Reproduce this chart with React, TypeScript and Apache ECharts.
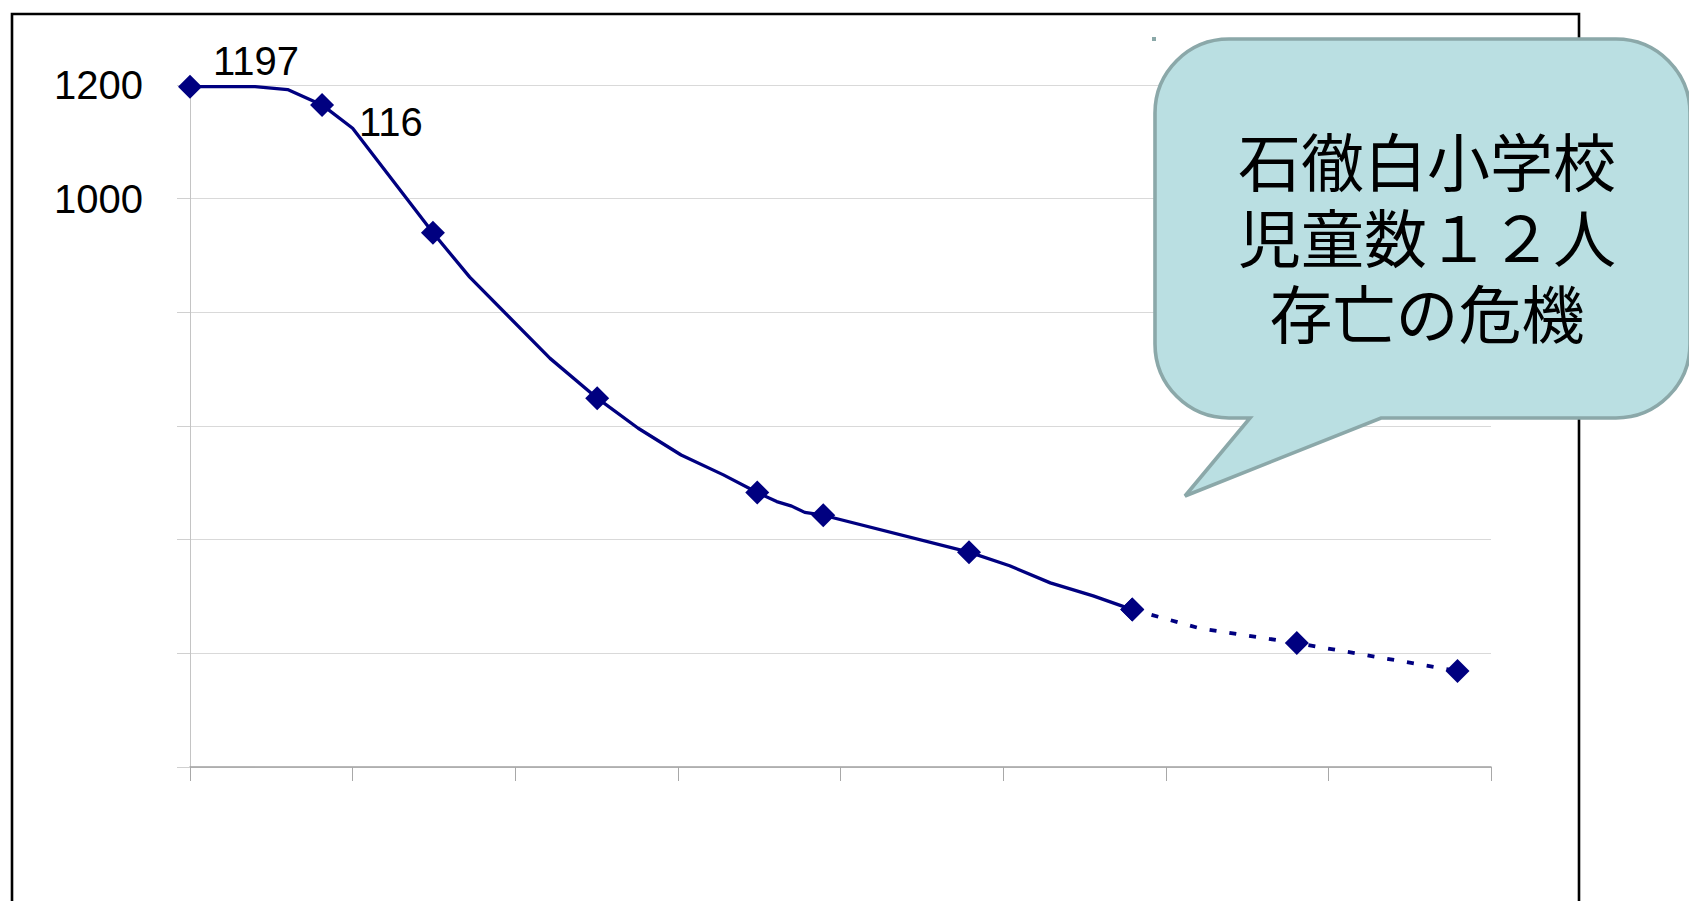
import React, { useEffect, useRef } from "react";
import * as echarts from "echarts";

// Position along the (unlabelled) time axis, 5 units per tick interval
const xPoints = [0, 2, 3, 4.06, 5, 7.47, 8.6, 11.07, 12.52, 13.78, 15.1, 16.4, 17.44, 18.04, 18.5, 18.9, 19.47, 23.95, 25.2, 26.45, 27.77, 28.97];
const pupils = [1197, 1197, 1192, 1165, 1124, 940, 862, 719, 649, 596, 549, 514, 483, 467, 459, 448, 443, 378, 354, 324, 301, 277];
const markerIdx = [0, 3, 5, 8, 12, 16, 17, 21];

// Projection (dotted)
const xProjection = [28.97, 31.05, 34.03, 38.97];
const projection = [277, 244, 218, 169];
const projMarkerIdx = [0, 2, 3];

const yTickLabels = [1000, 1200];
const calloutLines = ["石徹白小学校", "児童数１２人", "存亡の危機"];

const NAVY = "#000080";

function buildBubblePath() {
  const L = 1155, T = 39, R = 1690, B = 418, r = 74;
  const k = r * 0.5523;
  return [
    `M ${L + r} ${T}`,
    `L ${R - r} ${T}`,
    `C ${R - r + k} ${T} ${R} ${T + r - k} ${R} ${T + r}`,
    `L ${R} ${B - r}`,
    `C ${R} ${B - r + k} ${R - r + k} ${B} ${R - r} ${B}`,
    `L 1381 ${B}`,
    `L 1185 496`,
    `L 1250 ${B}`,
    `L ${L + r} ${B}`,
    `C ${L + r - k} ${B} ${L} ${B - r + k} ${L} ${B - r}`,
    `L ${L} ${T + r}`,
    `C ${L} ${T + r - k} ${L + r - k} ${T} ${L + r} ${T}`,
    "Z",
  ].join(" ");
}

let registered = false;

export default function App() {
  const ref = useRef<HTMLDivElement>(null);

  useEffect(() => {
    if (!ref.current) return;
    if (!registered) {
      echarts.graphic.registerShape("bubble", echarts.graphic.extendPath(buildBubblePath(), {}));
      registered = true;
    }
    const chart = echarts.init(ref.current, undefined, { renderer: "svg" });

    const labelFont = { fontFamily: "'Liberation Sans', Arial, sans-serif", fontSize: 40, color: "#000" };

    const solidData = xPoints.map((x, i) => {
      const item: any = { value: [x, pupils[i]] };
      if (!markerIdx.includes(i)) item.symbol = "none";
      if (i === 0) {
        item.label = { show: true, position: "right", offset: [6, -26], ...labelFont, formatter: (p: any) => String(p.value[1]) };
      }
      if (i === 3) {
        item.label = {
          show: true, position: "right", offset: [20, 17], ...labelFont,
          width: 68, overflow: "truncate", ellipsis: "",
          formatter: (p: any) => String(p.value[1]),
        };
      }
      return item;
    });

    const projData = xProjection.map((x, i) => {
      const item: any = { value: [x, projection[i]] };
      if (!projMarkerIdx.includes(i)) item.symbol = "none";
      return item;
    });

    const calloutTexts = calloutLines.map((line, i) => ({
      type: "text",
      z: 101,
      x: 1427,
      y: 158 + i * 76,
      style: {
        text: line,
        font: "63px 'Noto Sans CJK JP', sans-serif",
        lineHeight: 70,
        fill: "#000",
        align: "center",
        verticalAlign: "middle",
        textAlign: "center",
        textVerticalAlign: "middle",
      },
    }));

    chart.setOption({
      animation: false,
      backgroundColor: "#ffffff",
      grid: { left: 190, right: 198, top: 85, bottom: 134 },
      xAxis: {
        type: "value",
        min: 0,
        max: 40,
        interval: 5,
        axisLine: { show: true, lineStyle: { color: "#a0a0a0", width: 1.5 } },
        axisTick: { show: true, length: 14, lineStyle: { color: "#a8a8a8", width: 1 } },
        axisLabel: { show: false },
        splitLine: { show: false },
      },
      yAxis: {
        type: "value",
        min: 0,
        max: 1200,
        interval: 200,
        axisLine: { show: true, lineStyle: { color: "#c4c4c4", width: 1 } },
        axisTick: { show: true, length: 13, lineStyle: { color: "#d0d0d0", width: 1 } },
        axisLabel: {
          show: true,
          margin: 47,
          ...labelFont,
          padding: [7, 0, 0, 0],
          formatter: (v: number) => (yTickLabels.includes(v) ? String(v) : ""),
        },
        splitLine: { show: true, lineStyle: { color: "#d9d9d9", width: 1 } },
      },
      series: [
        {
          type: "line",
          data: solidData,
          symbol: "diamond",
          symbolSize: 24,
          clip: false,
          itemStyle: { color: NAVY },
          lineStyle: { color: NAVY, width: 3.3 },
          z: 3,
        },
        {
          type: "line",
          data: projData,
          symbol: "diamond",
          symbolSize: 24,
          clip: false,
          itemStyle: { color: NAVY },
          lineStyle: { color: NAVY, width: 3.8, type: [7, 13], cap: "butt" },
          z: 3,
        },
      ],
      graphic: [
        {
          type: "rect",
          z: 1,
          shape: { x: 12, y: 14, width: 1567, height: 1000 },
          style: { fill: "none", stroke: "#000", lineWidth: 2.6 },
        },
        {
          type: "rect",
          z: 1,
          shape: { x: 1152, y: 37, width: 4, height: 4 },
          style: { fill: "#8aa8a8" },
        },
        {
          type: "bubble",
          z: 100,
          x: 0,
          y: 0,
          style: { fill: "#badfe2", stroke: "#8ba8a9", lineWidth: 3.6 },
        },
        ...calloutTexts,
      ],
    });

    return () => chart.dispose();
  }, []);

  return (
    <div
      ref={ref}
      style={{ position: "fixed", left: 0, top: 0, width: 1689, height: 901, background: "#fff" }}
    />
  );
}
